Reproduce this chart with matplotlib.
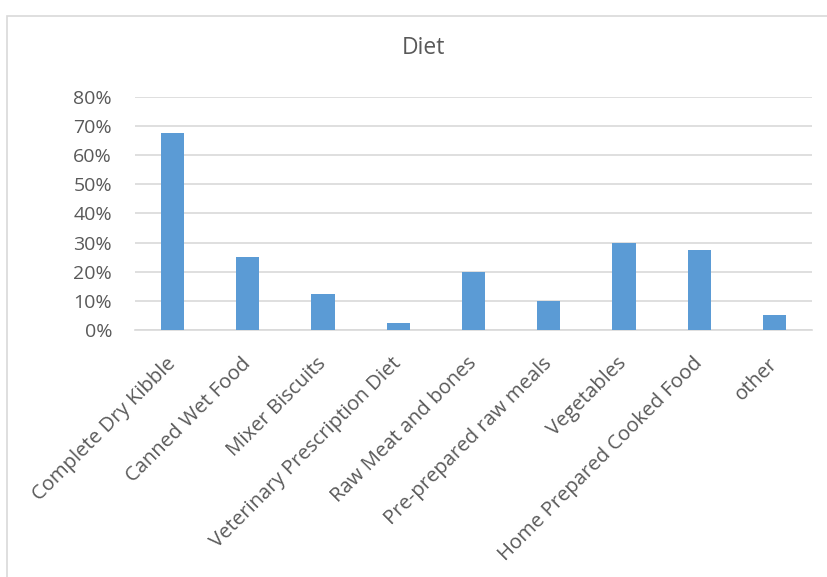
import matplotlib
matplotlib.use("Agg")
import matplotlib.pyplot as plt
from matplotlib.ticker import FuncFormatter, MultipleLocator
from matplotlib.patches import Rectangle

categories = ["Complete Dry Kibble", "Canned Wet Food", "Mixer Biscuits",
              "Veterinary Prescription Diet", "Raw Meat and bones",
              "Pre-prepared raw meals", "Vegetables", "Home Prepared Cooked Food", "other"]
values = [0.675, 0.25, 0.125, 0.025, 0.20, 0.10, 0.30, 0.275, 0.05]

plt.rcParams['font.family'] = ['Open Sans', 'DejaVu Sans']

fig = plt.figure(figsize=(8.28, 5.77), dpi=100)
fig.patch.set_facecolor("white")
# outer chart border
fig.add_artist(Rectangle((7/828, -0.01), 1.0, 1 - 16/577 + 0.01, transform=fig.transFigure,
                         fill=False, edgecolor="#D9D9D9", linewidth=1.2))

ax = fig.add_axes([135/828, 1 - 330/577, 677/828, (330 - 97)/577])
x = range(len(categories))
ax.bar(x, values, width=0.31, color="#5B9BD5", zorder=3)
ax.set_xlim(-0.5, len(categories) - 0.5)
ax.set_ylim(0, 0.8)
ax.yaxis.set_major_locator(MultipleLocator(0.1))
ax.yaxis.set_major_formatter(FuncFormatter(lambda v, p: f"{v*100:.0f}%"))
ax.grid(axis="y", color="#D9D9D9", linewidth=1.2, zorder=0)
for s in ["top", "right", "left"]:
    ax.spines[s].set_visible(False)
ax.spines["bottom"].set_color("#D9D9D9")
ax.spines["bottom"].set_linewidth(1.2)
ax.tick_params(axis="both", length=0, colors="#595959")
ax.tick_params(axis="y", pad=16.5, labelsize=14)
ax.tick_params(axis="x", pad=22, labelsize=14.6)
ax.set_xticks(list(x))
ax.set_xticklabels(categories, rotation=45, ha="right", va="center", rotation_mode="anchor")
fig.text(423/828, 1 - 48/577, "Diet", ha="center", va="center",
         fontsize=16.5, color="#595959")

fig.savefig("out.png", dpi=100)
